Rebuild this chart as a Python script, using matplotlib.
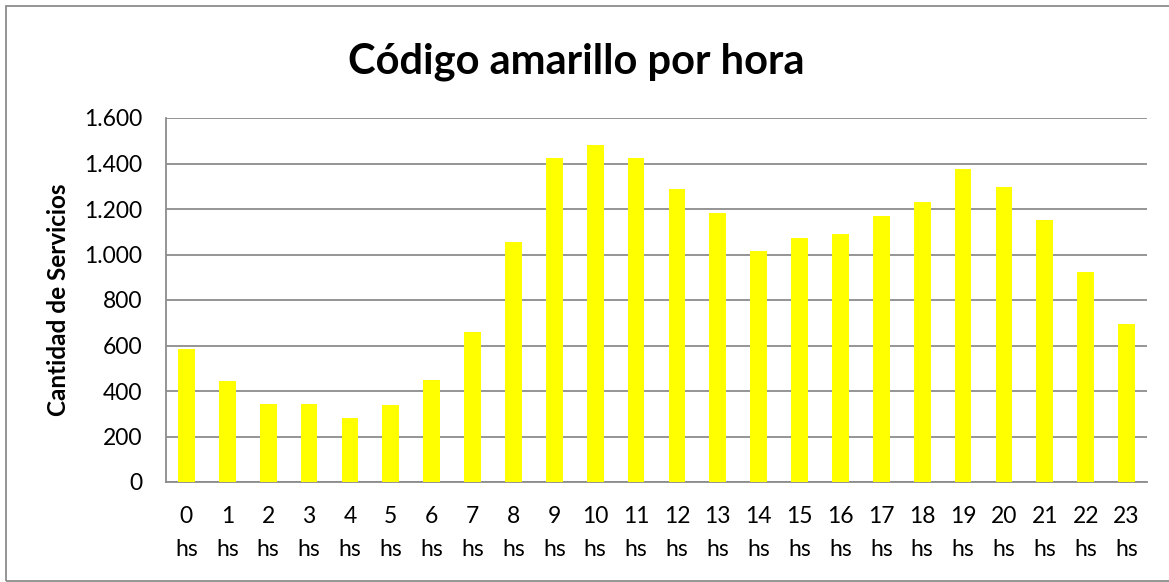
import matplotlib
matplotlib.use("Agg")
import matplotlib.pyplot as plt
from matplotlib.patches import Rectangle
from matplotlib.ticker import FuncFormatter

# --- Data ---
hours = list(range(24))
hour_labels = [f"{h}\nhs" for h in hours]
servicios = [585, 443, 343, 343, 283, 337, 447, 661, 1055, 1424, 1481, 1423,
             1286, 1181, 1015, 1074, 1092, 1168, 1231, 1376, 1298, 1152, 923, 695]
y_ticks = [0, 200, 400, 600, 800, 1000, 1200, 1400, 1600]

FONT = ["Lato", "DejaVu Sans"]
GRID = "#8c8c8c"

fig = plt.figure(figsize=(11.69, 5.82), dpi=100, facecolor="white")
ax = fig.add_axes([166 / 1169, 1 - 482 / 582, (1147 - 166) / 1169, (482 - 118) / 582])

ax.bar(hours, servicios, width=0.41, color="#ffff00", zorder=3)

ax.set_xlim(-0.5, 23.5)
ax.set_ylim(0, 1600)
ax.set_yticks(y_ticks)
ax.yaxis.set_major_formatter(FuncFormatter(lambda v, p: f"{int(v):,}".replace(",", ".")))
ax.set_xticks(hours)
ax.set_xticklabels(hour_labels, linespacing=1.75)

for lbl in ax.get_xticklabels() + ax.get_yticklabels():
    lbl.set_family(FONT)
    lbl.set_fontsize(16.5)
    lbl.set_color("black")

ax.tick_params(axis="x", length=0, pad=17)
ax.tick_params(axis="y", length=0, pad=17)
ax.grid(axis="y", color=GRID, linewidth=1.3, zorder=0)
for side in ["top", "right"]:
    ax.spines[side].set_visible(False)
for side in ["left", "bottom"]:
    ax.spines[side].set_color(GRID)
    ax.spines[side].set_linewidth(1.3)

ax.set_ylabel("Cantidad de Servicios", family=FONT, fontsize=17.5, fontweight="bold", labelpad=10)

fig.text(0.493, 1 - 62 / 582, "Código amarillo por hora", family=FONT, fontsize=30,
         fontweight="bold", ha="center", va="center")

# outer chart frame
fig.patches.append(Rectangle((6 / 1169, 1 / 582), 1.2, 575 / 582, transform=fig.transFigure,
                             fill=False, edgecolor="#8c8c8c", linewidth=1.3))

fig.savefig("out.png", dpi=100, facecolor="white")
